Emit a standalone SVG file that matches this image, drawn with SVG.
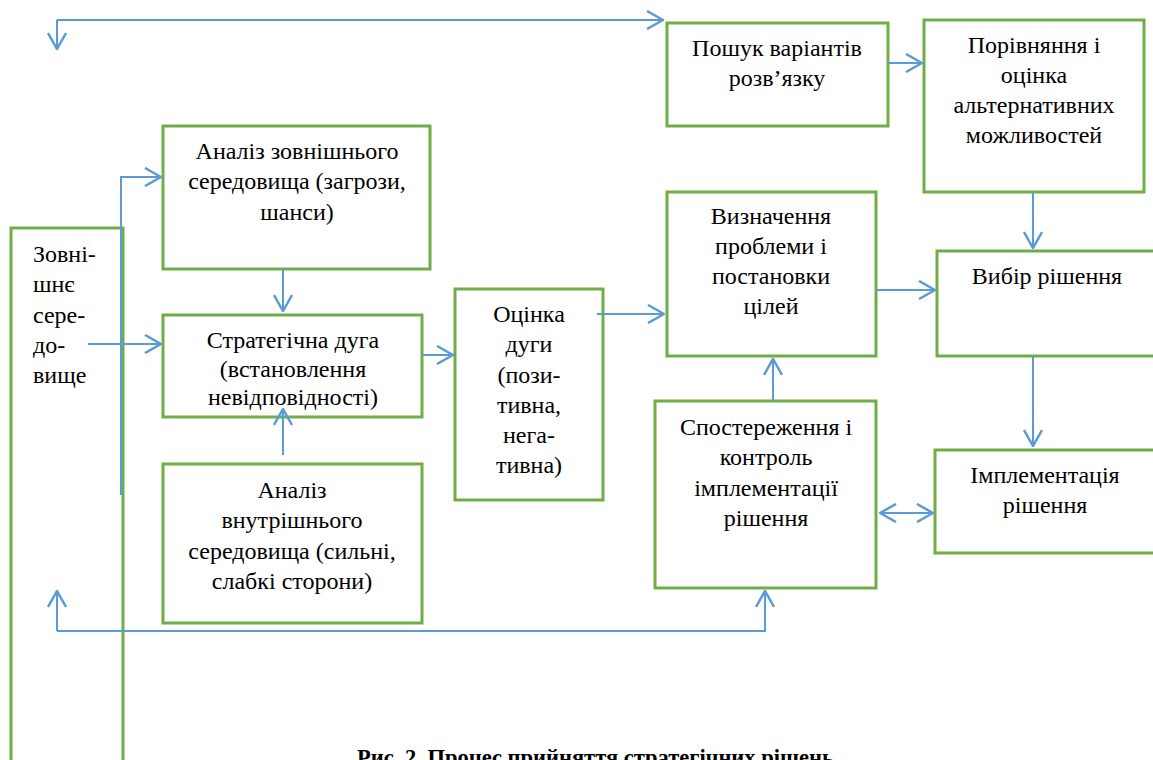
<svg xmlns="http://www.w3.org/2000/svg" width="1153" height="760" viewBox="0 0 1153 760">
<style>
.box{fill:#fff;stroke:#70AD47;stroke-width:3}
.gl{fill:none;stroke:#70AD47;stroke-width:3}
.t{font-family:"Liberation Serif","Times New Roman",serif;font-size:24px;fill:#000;text-anchor:middle}
.tl{font-family:"Liberation Serif","Times New Roman",serif;font-size:24px;fill:#000}
.cap{font-family:"Liberation Serif","Times New Roman",serif;font-size:22.5px;font-weight:bold;fill:#000}
.c{fill:none;stroke:#5B9BD5;stroke-width:2}
.a{marker-end:url(#ah)}
</style>
<defs>
<marker id="ah" viewBox="0 0 18 20" refX="17" refY="10" markerWidth="18" markerHeight="20" markerUnits="userSpaceOnUse" orient="auto-start-reverse">
<path d="M1,1 L17,10 L1,19" fill="none" stroke="#5B9BD5" stroke-width="2.5"/>
</marker>
</defs>
<rect width="1153" height="760" fill="#fff"/>

<g id="n-env">
<path class="gl" d="M11,760 L11,228 L123,228 L123,760"/>
<text class="tl"><tspan x="33" y="262">Зовні-</tspan><tspan x="33" y="292">шнє</tspan><tspan x="33" y="323">сере-</tspan><tspan x="33" y="353">до-</tspan><tspan x="33" y="383">вище</tspan></text>
</g>

<g id="n-ext">
<rect class="box" x="163" y="126" width="267" height="143"/>
<text class="t"><tspan x="297" y="159">Аналіз зовнішнього</tspan><tspan x="297" y="189">середовища (загрози,</tspan><tspan x="297" y="220">шанси)</tspan></text>
</g>

<g id="n-arc">
<rect class="box" x="163" y="315" width="259" height="102"/>
<text class="t"><tspan x="293" y="348">Стратегічна дуга</tspan><tspan x="293" y="377">(встановлення</tspan><tspan x="293" y="405">невідповідності)</tspan></text>
</g>

<g id="n-int">
<rect class="box" x="163" y="464" width="259" height="159"/>
<text class="t"><tspan x="292" y="498">Аналіз</tspan><tspan x="292" y="528">внутрішнього</tspan><tspan x="292" y="559">середовища (сильні,</tspan><tspan x="292" y="589">слабкі сторони)</tspan></text>
</g>

<g id="n-eval">
<rect class="box" x="455" y="289" width="148" height="211"/>
<text class="t"><tspan x="529" y="322">Оцінка</tspan><tspan x="529" y="352">дуги</tspan><tspan x="529" y="383">(пози-</tspan><tspan x="529" y="413">тивна,</tspan><tspan x="529" y="443">нега-</tspan><tspan x="529" y="473">тивна)</tspan></text>
</g>

<g id="n-search">
<rect class="box" x="667" y="23" width="221" height="103"/>
<text class="t"><tspan x="777" y="56">Пошук варіантів</tspan><tspan x="777" y="86">розв’язку</tspan></text>
</g>

<g id="n-compare">
<rect class="box" x="924" y="20" width="220" height="172"/>
<text class="t"><tspan x="1034" y="53">Порівняння і</tspan><tspan x="1034" y="83">оцінка</tspan><tspan x="1034" y="113">альтернативних</tspan><tspan x="1034" y="143">можливостей</tspan></text>
</g>

<g id="n-define">
<rect class="box" x="667" y="192" width="209" height="164"/>
<text class="t"><tspan x="771" y="224">Визначення</tspan><tspan x="771" y="254">проблеми і</tspan><tspan x="771" y="284">постановки</tspan><tspan x="771" y="314">цілей</tspan></text>
</g>

<g id="n-choice">
<rect class="box" x="937" y="251" width="218" height="105"/>
<text class="t"><tspan x="1047" y="284">Вибір рішення</tspan></text>
</g>

<g id="n-monitor">
<rect class="box" x="655" y="401" width="221" height="187"/>
<text class="t"><tspan x="766" y="435">Спостереження і</tspan><tspan x="766" y="465">контроль</tspan><tspan x="766" y="496">імплементації</tspan><tspan x="766" y="526">рішення</tspan></text>
</g>

<g id="n-impl">
<rect class="box" x="935" y="450" width="220" height="103"/>
<text class="t"><tspan x="1045" y="483">Імплементація</tspan><tspan x="1045" y="513">рішення</tspan></text>
</g>

<g id="connectors">
<path class="c a" d="M57,20 L663,20"/>
<path class="c a" d="M57,20 L57,49"/>
<path class="c a" d="M121,495 L121,177 L161,177"/>
<path class="c a" d="M88,344 L161,344"/>
<path class="c a" d="M283,269 L283,311"/>
<path class="c a" d="M283,455 L283,409"/>
<path class="c a" d="M422,355 L453,355"/>
<path class="c a" d="M597,314 L664,314"/>
<path class="c a" d="M888,63 L922,63"/>
<path class="c a" d="M1033,192 L1033,248"/>
<path class="c a" d="M876,290 L935,290"/>
<path class="c a" d="M1033,356 L1033,446"/>
<path class="c a" d="M773,401 L773,359"/>
<path class="c a" d="M880,513 L933,513" style="marker-start:url(#ah)"/>
<path class="c a" d="M57,631 L765,631 L765,591"/>
<path class="c a" d="M57,631 L57,591"/>
</g>

<text class="cap" x="357" y="765">Рис. 2. Процес прийняття стратегічних рішень</text>
</svg>
